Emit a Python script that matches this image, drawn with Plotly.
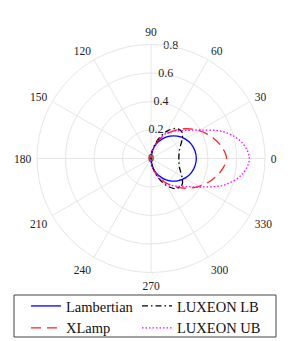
import plotly.graph_objects as go

# angles (degrees) for one half; curves are symmetric about 0
half_theta = [0, 10, 20, 30, 40, 50, 60, 70, 80, 90]
lambertian = [0.318, 0.313, 0.299, 0.276, 0.244, 0.205, 0.159, 0.109, 0.055, 0.0]
xlamp      = [0.53, 0.50, 0.45, 0.39, 0.325, 0.255, 0.19, 0.125, 0.06, 0.0]
luxeon_lb  = [0.195, 0.20, 0.215, 0.25, 0.285, 0.275, 0.22, 0.14, 0.055, 0.0]
luxeon_ub  = [0.69, 0.648, 0.545, 0.40, 0.305, 0.25, 0.20, 0.13, 0.06, 0.0]

angle_ticks = [0, 30, 60, 90, 120, 150, 180, 210, 240, 270, 300, 330]
radial_ticks = [0, 0.2, 0.4, 0.6, 0.8]
radial_labels = ["0", "0.2", "0.4", "0.6", "0.8"]
radial_label_angle = 80


def full(vals):
    return list(reversed(vals[1:])) + vals


theta = [-t for t in reversed(half_theta[1:])] + half_theta

FONT = "Liberation Serif"

series = [
    ("Lambertian", lambertian, "#0000ff", "solid", "legend"),
    ("XLamp", xlamp, "#ff2020", "10px,6px", "legend"),
    ("LUXEON LB", luxeon_lb, "#000000", "6px,3px,1.5px,3px", "legend2"),
    ("LUXEON UB", luxeon_ub, "#ff00ff", "1.5px,2px", "legend2"),
]

fig = go.Figure()

# radial tick labels, centred on the 80 degree spoke (drawn under the curves)
fig.add_trace(go.Scatterpolar(
    r=radial_ticks, theta=[radial_label_angle] * len(radial_ticks),
    mode="text", text=radial_labels, textposition="middle center",
    textfont=dict(family=FONT, size=12, color="#222"),
    showlegend=False, hoverinfo="skip",
))

for name, vals, color, dash, leg in series:
    fig.add_trace(go.Scatterpolar(
        r=full(vals), theta=theta, mode="lines", name=name, legend=leg,
        line=dict(color=color, width=1.3, dash=dash, shape="spline"),
    ))

# the page body adds an 8px offset, so layout positions are given 8px earlier
W, H = 291, 341
T = 30
plot_h = H - T


def py(fy):
    return (H - fy) / plot_h


legend_common = dict(
    orientation="v", yanchor="top", y=py(282),
    borderwidth=0, bgcolor="rgba(0,0,0,0)",
    font=dict(family=FONT, size=14.5, color="#111"),
    tracegroupgap=0,
)

fig.update_layout(
    width=W, height=H,
    margin=dict(l=0, r=0, t=T, b=0),
    paper_bgcolor="white",
    font=dict(family=FONT, size=11.5, color="#222"),
    polar=dict(
        bgcolor="white",
        domain=dict(x=[29 / W, 257 / W], y=[py(264.5), py(36.5)]),
        angularaxis=dict(
            rotation=0, direction="counterclockwise",
            tickmode="array", tickvals=angle_ticks,
            ticktext=[str(a) for a in angle_ticks],
            ticks="outside", ticklen=3, tickcolor="rgba(0,0,0,0)",
            showline=True, linecolor="#e6e6e6", linewidth=1,
            gridcolor="#e6e6e6", gridwidth=1,
            tickfont=dict(family=FONT, size=11.5, color="#222"),
        ),
        radialaxis=dict(
            range=[0, 0.8], tickmode="array", tickvals=radial_ticks,
            showticklabels=False,
            angle=radial_label_angle, showline=False, ticks="",
            gridcolor="#e6e6e6", gridwidth=1,
        ),
    ),
    showlegend=True,
    legend=dict(legend_common, x=18 / W, xanchor="left"),
    legend2=dict(legend_common, x=129 / W, xanchor="left"),
    shapes=[dict(
        type="rect", xref="paper", yref="paper",
        x0=6 / W, x1=268 / W, y0=py(329), y1=py(287),
        line=dict(color="#444", width=1), fillcolor="rgba(0,0,0,0)",
    )],
)

fig.write_html("out.html")
